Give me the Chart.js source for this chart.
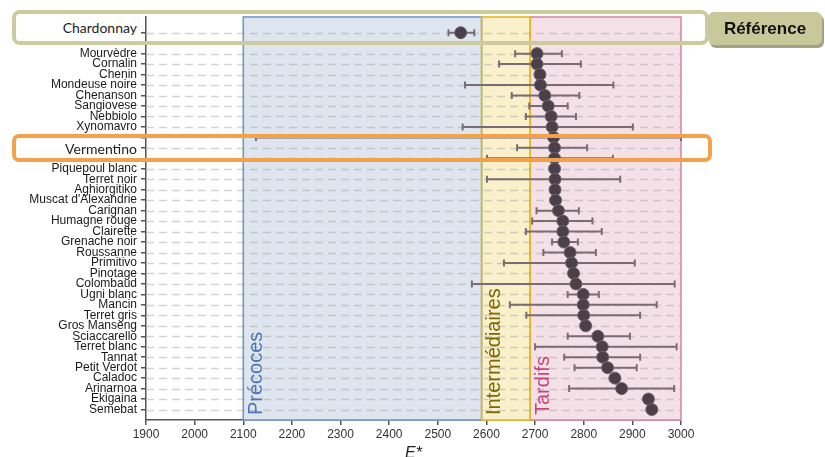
<!DOCTYPE html>
<html>
<head>
<meta charset="utf-8">
<script src="https://cdn.jsdelivr.net/npm/chart.js@4/dist/chart.umd.min.js"></script>
<style>
  body { margin: 0; background: #fff; }
  #wrap { position: relative; width: 825px; height: 457px; }
  .hl { position: absolute; box-sizing: border-box; border: 4px solid; border-radius: 8px; }
  .hl span {
    position: absolute; left: 0; top: 0; bottom: 0; width: 121px; padding-right: 3px;
    background: #fff; text-align: right; font: 14px Lato, sans-serif; color: #222;
    display: flex; align-items: center; justify-content: flex-end; border-radius: 4px 0 0 4px;
  }
  #tab {
    position: absolute; left: 708px; top: 12px; width: 114px; height: 33px; box-sizing: border-box;
    background: #c9c89b; border-radius: 6px; box-shadow: 2px 3px 0 #a3a287;
    font: bold 17px "Liberation Sans", Arial, sans-serif; color: #111;
    display: flex; align-items: center; justify-content: center;
  }
</style>
</head>
<body>
<div id="wrap">
  <canvas id="c" width="825" height="457"></canvas>
  <div class="hl" style="left:12px;top:10px;width:697px;height:35px;border-color:#cbcb9d"><span id="lab1"></span></div>
  <div class="hl" style="left:12px;top:134px;width:700px;height:28px;border-color:#f3a24b;border-radius:7px"><span id="lab2"></span></div>
  <div id="tab">Référence</div>
</div>
<script>
// rows from top to bottom ("" = row hidden under a highlight box or empty)
const varieties = ["", "Chardonnay", "", "Mourvèdre", "Cornalin", "Chenin", "Mondeuse noire", "Chenanson",
  "Sangiovese", "Nebbiolo", "Xynomavro", "", "Vermentino", "", "Piquepoul blanc", "Terret noir",
  "Aghiorgitiko", "Muscat d'Alexandrie", "Carignan", "Humagne rouge", "Clairette", "Grenache noir",
  "Roussanne", "Primitivo", "Pinotage", "Colombaud", "Ugni blanc", "Mancin", "Terret gris",
  "Gros Manseng", "Sciaccarello", "Terret blanc", "Tannat", "Petit Verdot", "Caladoc", "Arinarnoa",
  "Ekigaina", "Semebat"]
const means = [null, 2547, null, 2704, 2704, 2710, 2711, 2720, 2727, 2733, 2735, 2738, 2740, 2740,
  2740, 2741, 2741, 2742, 2748, 2757, 2757, 2759, 2772, 2775, 2779, 2784, 2799, 2799, 2800, 2804,
  2829, 2838, 2839, 2849, 2864, 2878, 2933, 2940]
const lows = [null, 2522, null, 2659, 2626, null, 2556, 2652, 2688, 2681, 2551, 2126, 2663, 2601,
  null, 2601, null, null, 2703, 2694, 2681, 2735, 2717, 2636, null, 2570, 2767, 2648, 2682, null,
  2767, 2700, 2760, 2781, null, 2770, null, null]
const highs = [null, 2575, null, 2755, 2794, null, 2861, 2791, 2767, 2784, 2901, 3000, 2807, 2860,
  null, 2875, null, null, 2790, 2818, 2837, 2788, 2825, 2905, null, 2987, 2831, 2950, 2916, null,
  2895, 2991, 2916, 2909, null, 2986, null, null]

const zones = ["Précoces", "Intermédiaires", "Tardifs"]
const zoneStart = [2100, 2590, 2690]
const zoneEnd = [2590, 2690, 3000]
const xTicks = [1900, 2000, 2100, 2200, 2300, 2400, 2500, 2600, 2700, 2800, 2900, 3000]

const highlighted = [1, 12]
document.getElementById("lab1").textContent = varieties[highlighted[0]]
document.getElementById("lab2").textContent = varieties[highlighted[1]]

const zoneFill = ["#dfe5ee", "#faf0c9", "#f4e1e7"]
const zoneLine = ["#7398c9", "#e8b726", "#d48ca6"]
const zoneText = ["#4a77b4", "#7d6608", "#c4497b"]

const backdrop = {
  id: "backdrop",
  beforeDatasetsDraw(chart) {
    const { ctx, chartArea: a, scales: { x, y } } = chart
    ctx.save()
    // zones
    const order = [0, 2, 1]
    order.forEach(i => {
      const x0 = x.getPixelForValue(zoneStart[i]), x1 = x.getPixelForValue(zoneEnd[i])
      ctx.fillStyle = zoneFill[i]
      ctx.fillRect(x0, a.top, x1 - x0, a.bottom - a.top)
    })
    order.forEach(i => {
      const x0 = x.getPixelForValue(zoneStart[i]), x1 = x.getPixelForValue(zoneEnd[i])
      ctx.strokeStyle = zoneLine[i]
      ctx.lineWidth = 1.6
      ctx.strokeRect(x0, a.top, x1 - x0, a.bottom - a.top)
    })
    // dashed row lines
    ctx.setLineDash([8, 5])
    ctx.strokeStyle = "rgba(160,160,160,0.45)"
    ctx.lineWidth = 1.5
    varieties.forEach((v, i) => {
      if (means[i] == null) return
      const py = Math.round(y.getPixelForValue(i)) + 0.5
      ctx.beginPath(); ctx.moveTo(a.left, py); ctx.lineTo(a.right, py); ctx.stroke()
    })
    ctx.setLineDash([])
    // zone labels
    ctx.font = '20px "Liberation Sans", Arial, sans-serif'
    ctx.textAlign = "left"
    ctx.textBaseline = "middle"
    zones.forEach((z, i) => {
      ctx.save()
      ctx.translate(x.getPixelForValue(zoneStart[i]) + 13, a.bottom - 5)
      ctx.rotate(-Math.PI / 2)
      ctx.fillStyle = zoneText[i]
      ctx.fillText(z, 0, 0)
      ctx.restore()
    })
    // whiskers
    ctx.strokeStyle = "#7a6c74"
    ctx.lineWidth = 2
    varieties.forEach((v, i) => {
      if (lows[i] == null) return
      const py = y.getPixelForValue(i)
      const xl = x.getPixelForValue(lows[i]), xh = x.getPixelForValue(highs[i])
      ctx.beginPath()
      ctx.moveTo(xl, py); ctx.lineTo(xh, py)
      ctx.moveTo(xl, py - 3.5); ctx.lineTo(xl, py + 3.5)
      ctx.moveTo(xh, py - 3.5); ctx.lineTo(xh, py + 3.5)
      ctx.stroke()
    })
    ctx.restore()
  }
}

const points = []
means.forEach((m, i) => { if (m != null) points.push({ x: m, y: i }) })

new Chart(document.getElementById("c"), {
  type: "scatter",
  data: {
    datasets: [{
      data: points,
      pointRadius: 6,
      pointHoverRadius: 6,
      backgroundColor: "#4b3f49",
      borderColor: "#6d6069",
      borderWidth: 1
    }]
  },
  options: {
    responsive: false,
    animation: false,
    events: [],
    layout: { padding: { top: 17, right: 144, left: 0, bottom: 0 } },
    plugins: { legend: { display: false }, tooltip: { enabled: false } },
    scales: {
      x: {
        type: "linear", min: 1900, max: 3000,
        afterBuildTicks: s => { s.ticks = xTicks.map(v => ({ value: v })) },
        afterFit: s => { s.height = 37 },
        ticks: { color: "#333", font: { size: 12, family: "Liberation Sans" }, padding: 2, maxRotation: 0,
          callback: v => String(v) },
        grid: { drawOnChartArea: false, tickLength: 5, color: "#555", lineWidth: 1.5 },
        border: { color: "#555", width: 1.5 },
        title: { display: true, text: "E*", color: "#222", font: { size: 16, style: "italic", family: "Liberation Sans" }, padding: { top: 0, bottom: -6 } }
      },
      y: {
        type: "linear", reverse: true, min: -0.5, max: 38,
        afterBuildTicks: s => { s.ticks = varieties.map((v, i) => ({ value: i })) },
        afterFit: s => { s.width = 146 },
        ticks: { autoSkip: false, color: "#1a1a1a", font: { size: 12, family: "Liberation Sans" }, padding: 4,
          callback: v => varieties[v] },
        grid: { drawOnChartArea: false, tickLength: 5, lineWidth: 1.5,
          color: c => (c.tick && means[c.tick.value] != null) ? "#555" : "rgba(0,0,0,0)" },
        border: { color: "#555", width: 1.5 }
      }
    }
  },
  plugins: [backdrop]
})
</script>
</body>
</html>
